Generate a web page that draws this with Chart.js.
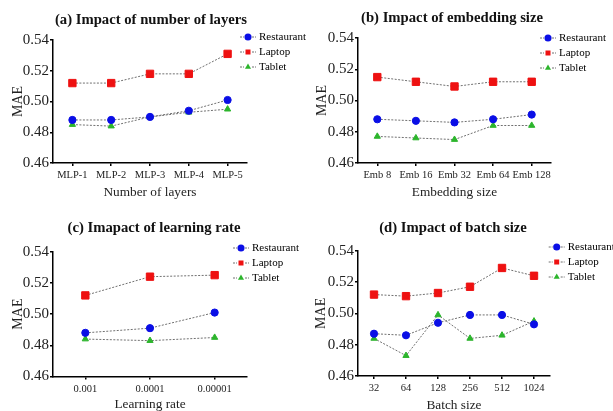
<!DOCTYPE html>
<html>
<head>
<meta charset="utf-8">
<script src="https://cdn.jsdelivr.net/npm/chart.js@4/dist/chart.umd.min.js"></script>
<style>
    html, body { margin: 0; padding: 0; background: #fff; overflow: hidden; width: 613px; height: 411px; }
    body { position: relative; }
    canvas { position: absolute; }
</style>
</head>
<body>
<script>
const seriesNames = ["Restaurant", "Laptop", "Tablet"];
const yTicks = [0.46, 0.48, 0.5, 0.52, 0.54];

const layerLabels = ["MLP-1", "MLP-2", "MLP-3", "MLP-4", "MLP-5"];
const layerRestaurant = [0.488, 0.488, 0.49, 0.494, 0.501];
const layerLaptop = [0.512, 0.512, 0.518, 0.518, 0.531];
const layerTablet = [0.485, 0.484, 0.49, 0.493, 0.495];

const embLabels = ["Emb 8", "Emb 16", "Emb 32", "Emb 64", "Emb 128"];
const embRestaurant = [0.488, 0.487, 0.486, 0.488, 0.491];
const embLaptop = [0.515, 0.512, 0.509, 0.512, 0.512];
const embTablet = [0.477, 0.476, 0.475, 0.484, 0.484];

const lrLabels = ["0.001", "0.0001", "0.00001"];
const lrRestaurant = [0.488, 0.491, 0.501];
const lrLaptop = [0.512, 0.524, 0.525];
const lrTablet = [0.484, 0.483, 0.485];

const batchLabels = ["32", "64", "128", "256", "512", "1024"];
const batchRestaurant = [0.487, 0.486, 0.494, 0.499, 0.499, 0.493];
const batchLaptop = [0.512, 0.511, 0.513, 0.517, 0.529, 0.524];
const batchTablet = [0.484, 0.473, 0.499, 0.484, 0.486, 0.495];

const serif = "'Liberation Serif', 'Times New Roman', serif";
const marks = [
    { style: "circle", radius: 3.6, color: "#0a0ee6" },
    { style: "rect", radius: 5.2, color: "#ee1111" },
    { style: "triangle", radius: 3.6, color: "#2cb52c" },
];

// moves the legend to the top right corner and draws the little dotted line through each marker
const legendMove = {
    id: "legendMove",
    afterLayout(chart, args, opts) {
        const lg = chart.legend;
        lg.left = opts.x - 4 - 5.5;
        lg.top = opts.y - 4 - 5.5;
    },
    afterDraw(chart, args, opts) {
        const ctx = chart.ctx;
        ctx.save();
        ctx.strokeStyle = "#707070";
        ctx.lineWidth = 1;
        ctx.setLineDash([2, 1]);
        seriesNames.forEach((name, i) => {
            const y = opts.y + i * 15;
            ctx.beginPath();
            ctx.moveTo(opts.x - 8, y);
            ctx.lineTo(opts.x - 4, y);
            ctx.moveTo(opts.x + 4, y);
            ctx.lineTo(opts.x + 8, y);
            ctx.stroke();
        });
        ctx.restore();
    },
};

// box values are page coordinates; the canvas sits at (x0, y0)
function makeChart(title, xTitle, labels, rows, box) {
    const canvas = document.createElement("canvas");
    canvas.width = box.W;
    canvas.height = box.H;
    canvas.style.left = box.x0 + "px";
    canvas.style.top = box.y0 + "px";
    document.body.appendChild(canvas);

    const left = box.left - box.x0;
    const right = box.right - box.x0;
    const top = box.top - box.y0;
    const bottom = box.bottom - box.y0;
    const titleY = box.titleY - box.y0;
    const xTitleY = box.xTitleY - box.y0;
    const yTitleX = box.yTitleX - box.x0;

    const axisGrid = {
        display: true,
        drawOnChartArea: false,
        drawTicks: true,
        tickLength: 3,
        color: "#000",
        lineWidth: 1.5,
    };
    const axisBorder = { display: true, color: "#000", width: 1.5 };

    new Chart(canvas, {
        type: "line",
        data: {
            labels: labels,
            datasets: rows.map((values, i) => ({
                label: seriesNames[i],
                data: values,
                borderColor: "#707070",
                borderWidth: 1,
                borderDash: [2, 1.5],
                tension: 0,
                fill: false,
                pointStyle: marks[i].style,
                pointRadius: marks[i].radius,
                pointBackgroundColor: marks[i].color,
                pointBorderColor: marks[i].color,
                pointBorderWidth: 1,
            })),
        },
        options: {
            responsive: false,
            animation: false,
            devicePixelRatio: 1,
            layout: { padding: 0 },
            plugins: {
                title: {
                    display: true,
                    text: title,
                    color: "#111",
                    font: { family: serif, size: 14.7, weight: "bold" },
                    padding: { top: titleY - 8.8, bottom: top - titleY - 8.8 },
                },
                legend: {
                    position: "right",
                    align: "start",
                    maxWidth: box.W - right,
                    labels: {
                        usePointStyle: true,
                        boxWidth: 11,
                        boxHeight: 5,
                        padding: 4,
                        color: "#222",
                        font: { family: serif, size: 11 },
                        generateLabels: (chart) =>
                            chart.data.datasets.map((ds, i) => ({
                                text: ds.label,
                                fillStyle: marks[i].color,
                                strokeStyle: marks[i].color,
                                lineWidth: 0,
                                lineDash: [],
                                pointStyle: marks[i].style,
                                hidden: false,
                                datasetIndex: i,
                            })),
                    },
                },
                legendMove: { x: box.legendX - box.x0, y: box.legendY - box.y0 },
                tooltip: { enabled: false },
            },
            scales: {
                x: {
                    type: "category",
                    offset: true,
                    grid: axisGrid,
                    border: axisBorder,
                    ticks: {
                        color: "#222",
                        font: { family: serif, size: 10.5 },
                        padding: 3,
                        maxRotation: 0,
                        autoSkip: false,
                    },
                    title: {
                        display: true,
                        text: xTitle,
                        color: "#222",
                        font: { family: serif, size: 13.3 },
                        padding: { top: 0, bottom: box.H - xTitleY - 8 },
                    },
                    afterFit: (s) => {
                        s.height = box.H - bottom;
                    },
                },
                y: {
                    min: yTicks[0],
                    max: yTicks[yTicks.length - 1],
                    grid: axisGrid,
                    border: axisBorder,
                    afterBuildTicks: (s) => {
                        s.ticks = yTicks.map((v) => ({ value: v }));
                    },
                    ticks: {
                        color: "#222",
                        font: { family: serif, size: 15 },
                        padding: 1,
                        callback: (v) => Number(v).toFixed(2),
                    },
                    title: {
                        display: true,
                        text: "MAE",
                        color: "#222",
                        font: { family: serif, size: 14 },
                        padding: { top: yTitleX - 8.4, bottom: 0 },
                    },
                    afterFit: (s) => {
                        s.width = left;
                    },
                },
            },
        },
        plugins: [legendMove],
    });
}

makeChart("(a) Impact of number of layers", "Number of layers", layerLabels,
    [layerRestaurant, layerLaptop, layerTablet],
    { x0: -6, y0: 0, W: 314, H: 205, left: 53, right: 247, top: 40, bottom: 163, titleY: 20, xTitleY: 192, yTitleX: 18, legendX: 248, legendY: 37 });

makeChart("(b) Impact of embedding size", "Embedding size", embLabels,
    [embRestaurant, embLaptop, embTablet],
    { x0: 291, y0: 0, W: 322, H: 205, left: 358, right: 551, top: 38, bottom: 163, titleY: 18, xTitleY: 192, yTitleX: 322, legendX: 548, legendY: 38 });

makeChart("(c) Imapact of learning rate", "Learning rate", lrLabels,
    [lrRestaurant, lrLaptop, lrTablet],
    { x0: 0, y0: 205, W: 308, H: 212, left: 53, right: 247, top: 251.7, bottom: 376.5, titleY: 228, xTitleY: 404.5, yTitleX: 18, legendX: 241, legendY: 248 });

makeChart("(d) Impact of batch size", "Batch size", batchLabels,
    [batchRestaurant, batchLaptop, batchTablet],
    { x0: 293, y0: 205, W: 320, H: 212, left: 358, right: 550, top: 250.7, bottom: 376, titleY: 227.7, xTitleY: 405, yTitleX: 321, legendX: 556.7, legendY: 247 });
</script>
</body>
</html>
